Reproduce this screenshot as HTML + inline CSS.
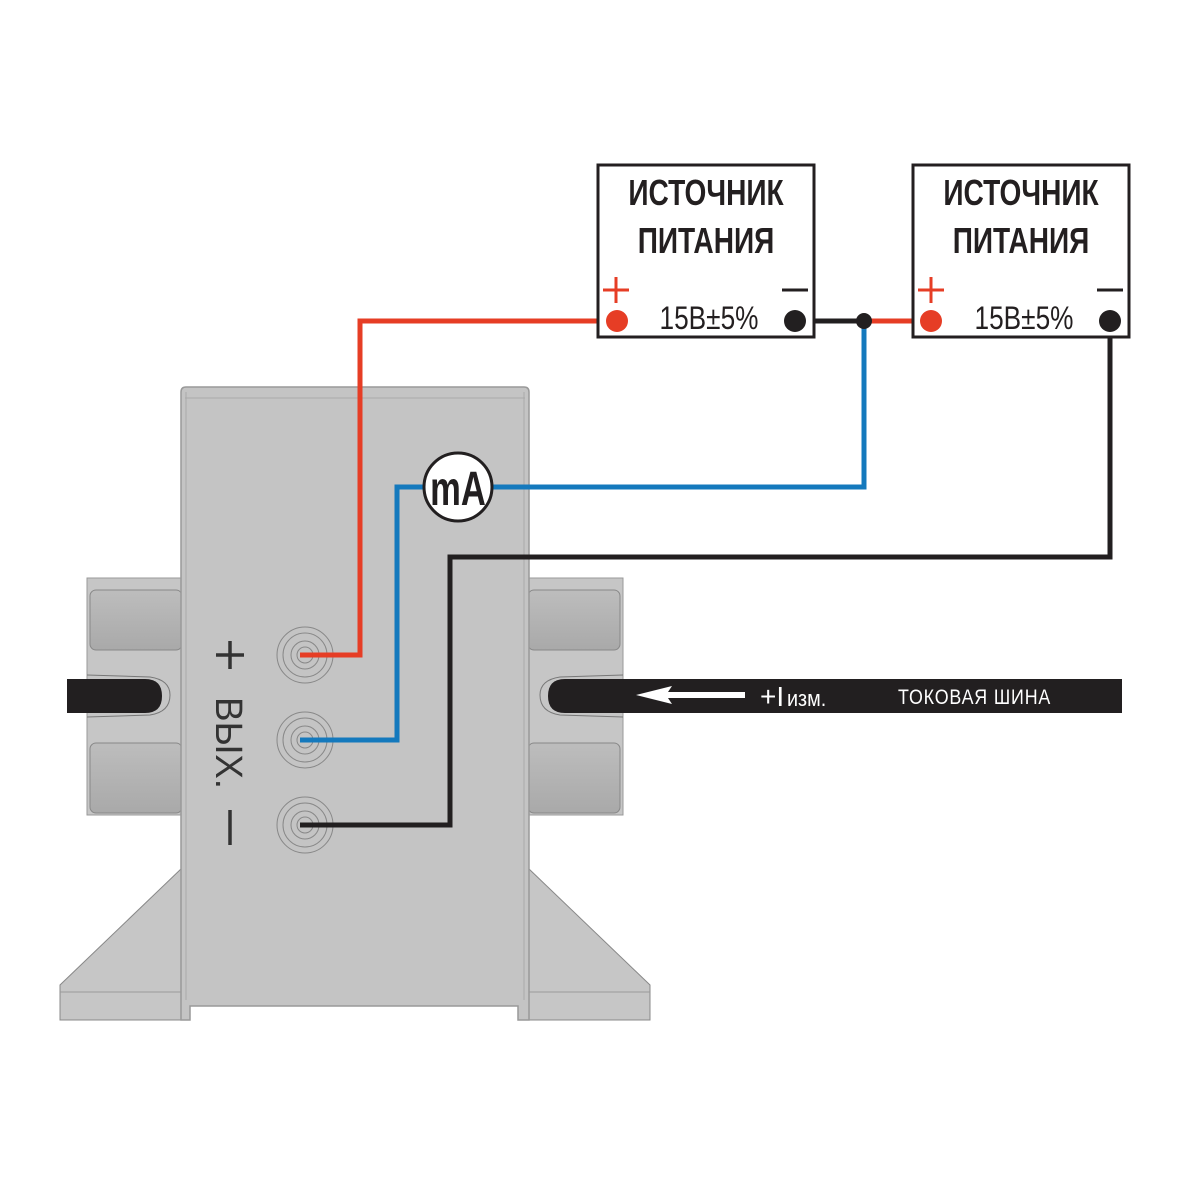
<!DOCTYPE html>
<html><head><meta charset="utf-8"><style>
html,body{margin:0;padding:0;background:#fff;}
svg{display:block;}
text{font-family:"Liberation Sans",sans-serif;}
</style></head><body>
<svg width="1182" height="1182" viewBox="0 0 1182 1182" xmlns="http://www.w3.org/2000/svg">
<defs>
<linearGradient id="lg" x1="0" y1="0" x2="0" y2="1"><stop offset="0" stop-color="#bdbdbd"/><stop offset="1" stop-color="#a9a9a9"/></linearGradient>
</defs>
<rect x="87" y="578" width="95" height="237" fill="#c6c6c6" stroke="#999" stroke-width="1"/>
<rect x="90" y="590" width="92" height="60" rx="6" fill="url(#lg)" stroke="#888" stroke-width="1"/>
<rect x="90" y="743" width="92" height="70" rx="6" fill="url(#lg)" stroke="#888" stroke-width="1"/>
<path d="M87 675 L150 677 Q170 680 170 695 Q170 712 150 715 L87 717" fill="none" stroke="#777" stroke-width="1"/>
<rect x="528" y="578" width="95" height="237" fill="#c6c6c6" stroke="#999" stroke-width="1"/>
<rect x="528" y="590" width="92" height="60" rx="6" fill="url(#lg)" stroke="#888" stroke-width="1"/>
<rect x="528" y="743" width="92" height="70" rx="6" fill="url(#lg)" stroke="#888" stroke-width="1"/>
<path d="M623 675 L560 677 Q540 680 540 695 Q540 712 560 715 L623 717" fill="none" stroke="#777" stroke-width="1"/>
<polygon points="182,868 60,985 60,1020 182,1020" fill="#c6c6c6" stroke="#888" stroke-width="1"/>
<polygon points="528,868 650,985 650,1020 528,1020" fill="#c6c6c6" stroke="#888" stroke-width="1"/>
<line x1="60" y1="992" x2="182" y2="992" stroke="#999"/>
<line x1="528" y1="992" x2="650" y2="992" stroke="#999"/>
<path d="M181 392 Q181 387 186 387 L524 387 Q529 387 529 392 L529 1020 L518 1020 L518 1006 L190 1006 L190 1020 L181 1020 Z" fill="#c4c4c4" stroke="#999" stroke-width="1.5"/>
<line x1="185" y1="398" x2="525" y2="398" stroke="#aaa"/>
<line x1="186" y1="392" x2="186" y2="1000" stroke="#aaa"/>
<line x1="524" y1="392" x2="524" y2="1000" stroke="#aaa"/>
<path d="M67 679 L145 679 Q162 679 162 696 Q162 713 145 713 L67 713 Z" fill="#221f20"/>
<path d="M1122 679 L565 679 Q548 679 548 696 Q548 713 565 713 L1122 713 Z" fill="#221f20"/>
<polygon points="636,695 672,686 668,692 745,692 745,698 668,698 672,704" fill="#fff"/>
<text x="760" y="706" font-family="Liberation Serif,serif" font-size="28" fill="#fff">+I</text>
<text x="787" y="706" font-size="22" fill="#fff" transform="translate(787 0) scale(0.9 1) translate(-787 0)">изм.</text>
<text x="898" y="704" font-size="21" fill="#fff" letter-spacing="1" transform="translate(898 0) scale(0.85 1) translate(-898 0)">ТОКОВАЯ  ШИНА</text>
<g fill="none" stroke="#888" stroke-width="1">
<circle cx="305" cy="655" r="28"/><circle cx="305" cy="655" r="22"/><circle cx="305" cy="655" r="14"/><circle cx="305" cy="655" r="8"/>
<circle cx="305" cy="740" r="28"/><circle cx="305" cy="740" r="22"/><circle cx="305" cy="740" r="14"/><circle cx="305" cy="740" r="8"/>
<circle cx="305" cy="825" r="28"/><circle cx="305" cy="825" r="22"/><circle cx="305" cy="825" r="14"/><circle cx="305" cy="825" r="8"/>
</g>
<line x1="216" y1="655" x2="244" y2="655" stroke="#333" stroke-width="3.5"/>
<line x1="230" y1="641" x2="230" y2="669" stroke="#333" stroke-width="3.5"/>
<line x1="230" y1="810" x2="230" y2="845" stroke="#333" stroke-width="3.5"/>
<text transform="translate(216 697) rotate(90)" font-size="38" fill="#333" textLength="92" lengthAdjust="spacingAndGlyphs">ВЫХ.</text>
<g fill="none" stroke-width="5" stroke-linejoin="miter">
<polyline points="300,655 360,655 360,321 617,321" stroke="#e63d25"/>
<polyline points="864,321 931,321" stroke="#e63d25"/>
<polyline points="300,740 397,740 397,487 425,487" stroke="#1479bd"/>
<polyline points="493,487 864,487 864,321" stroke="#1479bd"/>
<polyline points="300,825 450,825 450,557 1110,557 1110,321" stroke="#221f20"/>
<polyline points="795,321 864,321" stroke="#221f20"/>
</g>
<circle cx="458" cy="487" r="34" fill="#fff" stroke="#221f20" stroke-width="3"/>
<text font-size="48" font-weight="bold" fill="#221f20" text-anchor="middle" transform="translate(458 505) scale(0.72 1)">mA</text>
<rect x="598" y="165" width="216" height="172" fill="#fff" stroke="#231f20" stroke-width="3"/>
<rect x="913" y="165" width="216" height="172" fill="#fff" stroke="#231f20" stroke-width="3"/>
<g font-size="36" font-weight="bold" fill="#231f20" text-anchor="middle">
<text transform="translate(706 205) scale(0.78 1)">ИСТОЧНИК</text>
<text transform="translate(706 253) scale(0.78 1)">ПИТАНИЯ</text>
<text transform="translate(1021 205) scale(0.78 1)">ИСТОЧНИК</text>
<text transform="translate(1021 253) scale(0.78 1)">ПИТАНИЯ</text>
</g>
<g font-size="32" fill="#231f20" text-anchor="middle">
<text transform="translate(709 329) scale(0.82 1)">15В±5%</text>
<text transform="translate(1024 329) scale(0.82 1)">15В±5%</text>
</g>
<g stroke-width="3">
<line x1="603" y1="290" x2="629" y2="290" stroke="#e63d25"/><line x1="616" y1="277" x2="616" y2="303" stroke="#e63d25"/>
<line x1="918" y1="290" x2="944" y2="290" stroke="#e63d25"/><line x1="931" y1="277" x2="931" y2="303" stroke="#e63d25"/>
<line x1="782" y1="290" x2="808" y2="290" stroke="#231f20"/>
<line x1="1097" y1="290" x2="1123" y2="290" stroke="#231f20"/>
</g>
<circle cx="617" cy="321" r="11" fill="#e63d25"/>
<circle cx="931" cy="321" r="11" fill="#e63d25"/>
<circle cx="795" cy="321" r="11" fill="#221f20"/>
<circle cx="1110" cy="321" r="11" fill="#221f20"/>
<circle cx="864" cy="321" r="8" fill="#221f20"/>
</svg>
</body></html>
